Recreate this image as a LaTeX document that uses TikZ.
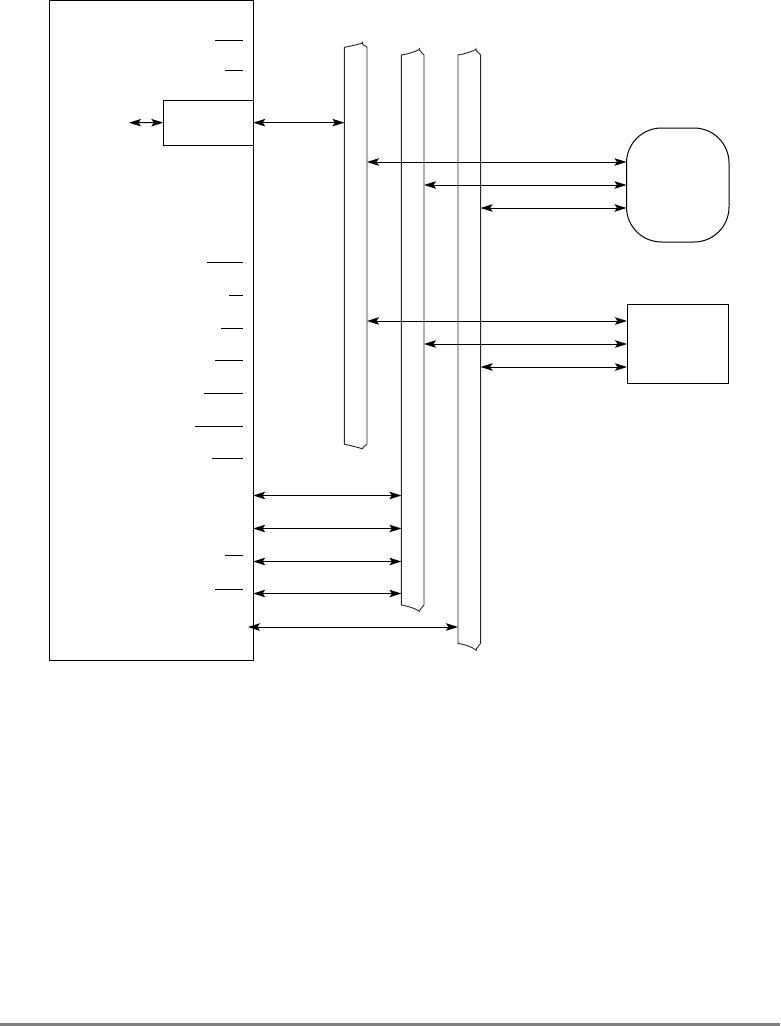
\documentclass[tikz,border=0pt]{standalone}
\usetikzlibrary{arrows.meta}
\tikzset{
  blk/.style={draw=black,line width=1pt,inner sep=0pt,outer sep=0pt,anchor=north west,fill=none},
  busbody/.style={inner sep=0pt,outer sep=0pt,anchor=north west,minimum width=22.6pt},
  link/.style={line width=1pt,{Stealth[length=12pt,width=7.5pt,inset=2.5pt]}-{Stealth[length=12pt,width=7.5pt,inset=2.5pt]}},
  busline/.style={line width=.9pt,line join=miter,draw=black!85},
  bar/.style={line width=1pt}
}
\begin{document}
\begin{tikzpicture}[x=1pt,y=-1pt]
\useasboundingbox (0,0) rectangle (780,1026);
\fill[black!50] (0,1023) rectangle (780,1026);
% boxes
\node[blk,minimum width=203.8pt,minimum height=659.5pt] (mcu) at (49.4,0.5) {};
\node[blk,minimum width=90pt,minimum height=45.3pt] (sub) at (163.3,100) {};
\node[blk,rounded corners=35pt,minimum width=102.5pt,minimum height=114pt] (ram) at (626.5,128) {};
\node[blk,minimum width=101.5pt,minimum height=79pt] (rom) at (627,304) {};
% buses
\node[busbody,minimum height=397pt] (busA) at (344.4,47.3) {};
\node[busbody,minimum height=550pt] (busB) at (401.4,55) {};
\node[busbody,minimum height=588.3pt] (busC) at (458,55) {};
\foreach \b/\h/\r/\d in {busA/397/4.2/4.6,busB/550/5.6/6.4,busC/588.3/5.6/6.8}{
  \begin{scope}[shift={(\b.north west)}]
    \draw[busline] (0,0) -- (0,\h)
      .. controls (6,\h+1.2) and (13,\h+2.8) .. (18.2,\h+\d)
      -- (18.6,\h+\d-1.6) -- (22.6,\h) -- (22.6,0)
      -- (18.4,-\r+1.2) -- (18,-\r-.6) -- (17.6,-\r+.2)
      .. controls (12,-2.6) and (6,-1) .. (0,0) -- cycle;
  \end{scope}
}
% free ends
\coordinate (stub) at (129,122.7);
\coordinate (inner) at (248,627);
% links
\draw[link] (stub) -- (sub.west);
\draw[link] (mcu.east |- sub.west) -- (busA.west |- sub.west);
\draw[link] (busA.east |- 0,162) -- (ram.west |- 0,162);
\draw[link] (busB.east |- 0,185) -- (ram.west |- 0,185);
\draw[link] (busC.east |- 0,208) -- (ram.west |- 0,208);
\draw[link] (busA.east |- 0,321) -- (rom.west |- 0,321);
\draw[link] (busB.east |- 0,344) -- (rom.west |- 0,344);
\draw[link] (busC.east |- 0,367) -- (rom.west |- 0,367);
\foreach \y in {495.5,528.5,561.5,593.5}{
  \draw[link] (mcu.east |- 0,\y) -- (busB.west |- 0,\y);
}
\draw[link] (inner) -- (busC.west |- inner);
% overbars
\foreach \x/\y in {215/40.3,225/70.5,207/262,229/295,221/328,215/360,204/393,195/426,212/458.5,225/555,215/589}{
  \draw[bar] (\x,\y) -- (243,\y);
}
\end{tikzpicture}
\end{document}
